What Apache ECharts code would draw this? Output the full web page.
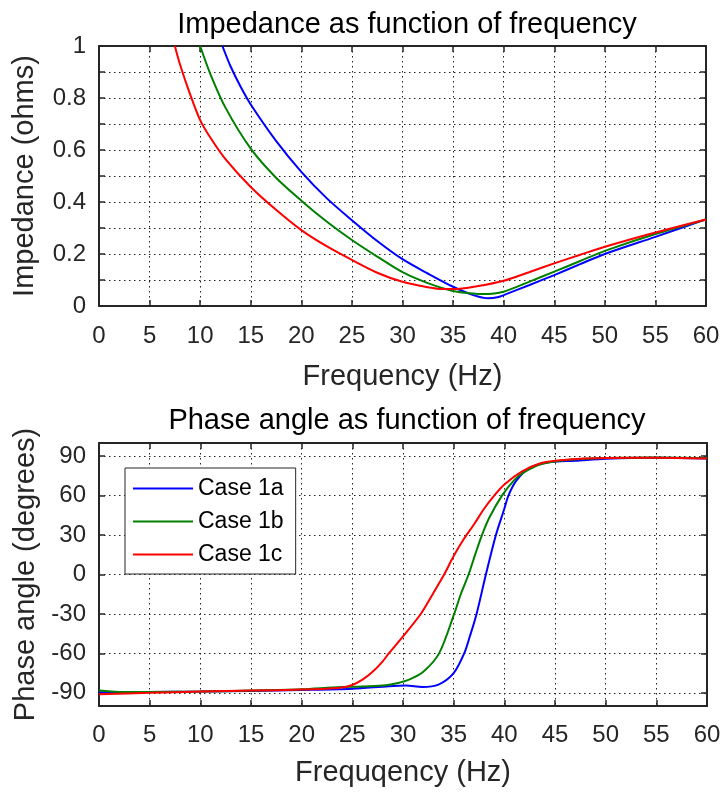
<!DOCTYPE html>
<html><head><meta charset="utf-8">
<script src="https://cdn.jsdelivr.net/npm/echarts@6/dist/echarts.min.js"></script>
<style>html,body{margin:0;padding:0;background:#fff}#c{width:722px;height:792px}</style>
</head><body><div id="c"></div>
<script>
// ---- data ----
const seriesNames = ['Case 1a', 'Case 1b', 'Case 1c'];
const seriesColors = ['#0000ff', '#008000', '#ff0000'];

// Impedance (ohms) vs frequency (Hz)
const impFreqA = [12.2, 13, 14, 15, 17.5, 20, 22.5, 25, 27.5, 30, 32.5, 35, 37, 38.5, 39.5, 40, 42.5, 45, 47.5, 50, 55, 60];
const impValA  = [1.0, 0.922, 0.843, 0.775, 0.635, 0.516, 0.415, 0.33, 0.25, 0.18, 0.125, 0.074, 0.042, 0.03, 0.035, 0.042, 0.08, 0.119, 0.16, 0.2, 0.266, 0.333];
const impFreqB = [10, 11, 12.5, 15, 17.5, 20, 22.5, 25, 27.5, 30, 32.5, 35, 37, 38, 40, 42.5, 45, 47.5, 50, 55, 60];
const impValB  = [1.0, 0.893, 0.763, 0.605, 0.493, 0.405, 0.325, 0.254, 0.19, 0.13, 0.088, 0.058, 0.048, 0.046, 0.055, 0.093, 0.132, 0.172, 0.212, 0.277, 0.333];
const impFreqC = [7.5, 8, 9, 10, 11, 12.5, 15, 17.5, 20, 22.5, 25, 27.5, 30, 32.5, 34, 35, 37.5, 40, 42.5, 45, 47.5, 50, 55, 60];
const impValC  = [1.0, 0.93, 0.815, 0.715, 0.648, 0.565, 0.458, 0.37, 0.292, 0.23, 0.177, 0.128, 0.093, 0.072, 0.065, 0.065, 0.077, 0.097, 0.13, 0.164, 0.196, 0.228, 0.283, 0.333];

// Phase angle (degrees) vs frequency (Hz)
const phFreqA = [0, 5, 10, 15, 20, 25, 28.6, 30.3, 31.9, 33.5, 35, 36.04, 36.6, 37.26, 38.18, 39.17, 40, 40.4, 41.15, 42.5, 44.5, 47, 50, 55, 60];
const phValA  = [-89.5, -89.3, -89, -88.5, -87.8, -86.8, -85, -84.5, -85.5, -83.7, -75, -60, -47, -30, 0, 30, 50, 60, 71, 81, 85.5, 86.5, 88, 88.8, 88.2];
const phFreqB = [0, 2, 5, 10, 15, 20, 23, 25, 28, 29.5, 30.6, 32, 33.56, 35.05, 35.7, 36.47, 37.2, 37.79, 38.5, 39.77, 41, 42, 43.5, 45, 47.5, 50, 55, 60];
const phValB  = [-88.3, -89.3, -89.3, -89, -88.3, -87.3, -86, -85.3, -84.5, -82.5, -80, -74, -60, -30, -15, 0, 17, 30, 43, 60, 72, 78, 83.7, 86, 87.8, 88.5, 89, 88.5];
const phFreqC = [0, 5, 10, 15, 20, 22.5, 24, 25, 26, 27, 28, 28.6, 29.9, 31.75, 33, 34.06, 35, 36, 37, 38, 39, 40, 41.8, 43.5, 45, 47.5, 50, 55, 60];
const phValC  = [-91, -90, -89, -88.3, -87.5, -86.8, -86, -84, -80, -74, -66, -60, -48, -30, -14, 0, 14, 27, 38, 50, 60, 68.5, 78.6, 84.4, 86.5, 88, 88.5, 88.8, 88.2];

const phaseTicks = [-90, -60, -30, 0, 30, 60, 90];

// ---- chart ----
const FONT = 'Liberation Sans';
const TXT = '#262626';
const AX = '#262626';
const gridLine = { show: true, lineStyle: { color: '#222', type: [1.5, 3.5], width: 1 } };

function pairs(xs, ys) { return xs.map((x, i) => [x, ys[i]]); }

function xMain(gi, name, margin, gap) {
  return {
    gridIndex: gi, type: 'value', min: 0, max: 60, interval: 5, position: 'bottom',
    axisLine: { show: true, onZero: false, lineStyle: { color: AX, width: 2 } },
    axisTick: { show: true, inside: true, length: 6, lineStyle: { color: AX, width: 1.5 } },
    axisLabel: { fontSize: 24, color: TXT, fontFamily: FONT, margin: margin, showMinLabel: true, showMaxLabel: true },
    splitLine: gridLine,
    name: name, nameLocation: 'middle', nameGap: gap,
    nameTextStyle: { fontSize: 29, color: TXT, fontFamily: FONT }
  };
}
function xTop(gi) {
  return {
    gridIndex: gi, type: 'value', min: 0, max: 60, interval: 5, position: 'top',
    axisLine: { show: true, onZero: false, lineStyle: { color: AX, width: 2 } },
    axisTick: { show: true, inside: true, length: 6, lineStyle: { color: AX, width: 1.5 } },
    axisLabel: { show: false }, splitLine: { show: false }
  };
}

const option = {
  animation: false,
  backgroundColor: '#fff',
  title: [
    { text: 'Impedance as function of frequency', left: 402, top: 5, textAlign: 'center',
      textStyle: { fontSize: 29, fontWeight: 'normal', color: '#000', fontFamily: FONT } },
    { text: 'Phase angle as function of frequency', left: 402, top: 401, textAlign: 'center',
      textStyle: { fontSize: 29, fontWeight: 'normal', color: '#000', fontFamily: FONT } }
  ],
  legend: {
    orient: 'vertical', left: 125, top: 468, data: seriesNames,
    icon: 'rect', itemWidth: 60, itemHeight: 2, itemGap: 10,
    padding: [9, 12, 8, 8],
    borderColor: AX, borderWidth: 1, backgroundColor: '#fff',
    textStyle: { fontSize: 23, color: '#000', fontFamily: FONT }
  },
  grid: [
    { left: 99, right: 16, top: 46, height: 260, outerBoundsMode: 'none' },
    { left: 99, right: 15, top: 443, height: 263, outerBoundsMode: 'none' }
  ],
  xAxis: [xMain(0, 'Frequency (Hz)', 18, 56), xTop(0), xMain(1, 'Frequqency (Hz)', 17, 52), xTop(1)],
  yAxis: [
    {
      gridIndex: 0, type: 'value', min: 0, max: 1, interval: 0.1, position: 'left',
      axisLine: { show: true, onZero: false, lineStyle: { color: AX, width: 2 } },
      axisTick: { show: true, inside: true, length: 6, lineStyle: { color: AX, width: 1.5 } },
      axisLabel: {
        fontSize: 24, color: TXT, fontFamily: FONT, margin: 13, showMinLabel: true, showMaxLabel: true,
        formatter: v => (Math.round(v * 10) % 2 === 0 ? String(Math.round(v * 10) / 10) : '')
      },
      splitLine: gridLine,
      name: 'Impedance (ohms)', nameLocation: 'middle', nameGap: 60,
      nameTextStyle: { fontSize: 29, color: TXT, fontFamily: FONT }
    },
    {
      gridIndex: 0, type: 'value', min: 0, max: 1, interval: 0.1, position: 'right',
      axisLine: { show: true, onZero: false, lineStyle: { color: AX, width: 2 } },
      axisTick: { show: true, inside: true, length: 6, lineStyle: { color: AX, width: 1.5 } },
      axisLabel: { show: false }, splitLine: { show: false }
    },
    {
      gridIndex: 1, type: 'value', min: -100, max: 100, position: 'left',
      axisLine: { show: true, onZero: false, lineStyle: { color: AX, width: 2 } },
      axisTick: { show: true, inside: true, length: 6, customValues: phaseTicks, lineStyle: { color: AX, width: 1.5 } },
      axisLabel: { fontSize: 24, color: TXT, fontFamily: FONT, margin: 13, customValues: phaseTicks },
      splitLine: gridLine,
      name: 'Phase angle (degrees)', nameLocation: 'middle', nameGap: 58,
      nameTextStyle: { fontSize: 29, color: TXT, fontFamily: FONT }
    },
    {
      gridIndex: 1, type: 'value', min: -100, max: 100, position: 'right',
      axisLine: { show: true, onZero: false, lineStyle: { color: AX, width: 2 } },
      axisTick: { show: true, inside: true, length: 6, customValues: phaseTicks, lineStyle: { color: AX, width: 1.5 } },
      axisLabel: { show: false }, splitLine: { show: false }
    }
  ],
  series: []
};

const impData = [pairs(impFreqA, impValA), pairs(impFreqB, impValB), pairs(impFreqC, impValC)];
const phData = [pairs(phFreqA, phValA), pairs(phFreqB, phValB), pairs(phFreqC, phValC)];
seriesNames.forEach((n, i) => {
  option.series.push({
    name: n, type: 'line', xAxisIndex: 0, yAxisIndex: 0, data: impData[i],
    symbol: 'none', smooth: 0.3, clip: true, color: seriesColors[i],
    lineStyle: { width: 2, color: seriesColors[i] }
  });
});
seriesNames.forEach((n, i) => {
  option.series.push({
    name: n, type: 'line', xAxisIndex: 2, yAxisIndex: 2, data: phData[i],
    symbol: 'none', smooth: 0.3, clip: true, color: seriesColors[i],
    lineStyle: { width: 2, color: seriesColors[i] }
  });
});

const chart = echarts.init(document.getElementById('c'), null, { renderer: 'canvas' });
chart.setOption(option);
</script>
</body></html>
